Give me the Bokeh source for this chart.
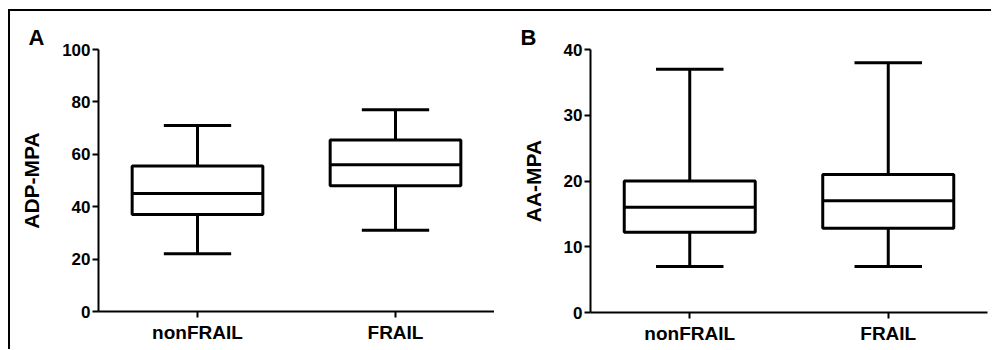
from bokeh.plotting import figure
from bokeh.layouts import row
from bokeh.models import FactorRange, Range1d, FixedTicker, ColumnDataSource
from bokeh.transform import dodge
from bokeh.embed import file_html
from bokeh.resources import INLINE

categories = ["nonFRAIL", "FRAIL"]

# Panel A: ADP-MPA
adp_min = [22, 31]
adp_q1 = [37, 48]
adp_median = [45, 56]
adp_q3 = [55.5, 65.5]
adp_max = [71, 77]

# Panel B: AA-MPA
aa_min = [7, 7]
aa_q1 = [12.2, 12.8]
aa_median = [16, 17]
aa_q3 = [20, 21]
aa_max = [37, 38]

adp_ticks = [0, 20, 40, 60, 80, 100]
aa_ticks = [0, 10, 20, 30, 40]

FONT = "Liberation Sans"


def make_panel(letter, ylabel, ymax, ticks, mins, q1s, meds, q3s, maxs,
               ml, mt, fw, fh, mb, mr, letter_offset):
    src = ColumnDataSource(dict(cat=categories, lo=mins, q1=q1s, med=meds, q3=q3s, hi=maxs))
    p = figure(x_range=FactorRange(*categories, range_padding=0),
               y_range=Range1d(0, ymax),
               frame_width=fw, frame_height=fh,
               min_border_left=ml, min_border_top=mt, min_border_right=mr,
               min_border_bottom=mb, title=letter,
               output_backend="svg", toolbar_location=None, tools="")
    lw = 3
    # stems
    p.segment(x0="cat", x1="cat", y0="q3", y1="hi", source=src, line_color="black", line_width=lw)
    p.segment(x0="cat", x1="cat", y0="lo", y1="q1", source=src, line_color="black", line_width=lw)
    # caps
    p.segment(x0=dodge("cat", -0.17, range=p.x_range), x1=dodge("cat", 0.17, range=p.x_range),
              y0="hi", y1="hi", source=src, line_color="black", line_width=lw)
    p.segment(x0=dodge("cat", -0.17, range=p.x_range), x1=dodge("cat", 0.17, range=p.x_range),
              y0="lo", y1="lo", source=src, line_color="black", line_width=lw)
    # boxes
    p.vbar(x="cat", bottom="q1", top="q3", width=0.66, source=src,
           fill_color="white", line_color="black", line_width=lw)
    # medians
    p.segment(x0=dodge("cat", -0.33, range=p.x_range), x1=dodge("cat", 0.33, range=p.x_range),
              y0="med", y1="med", source=src, line_color="black", line_width=lw)

    p.xgrid.visible = False
    p.ygrid.visible = False
    p.outline_line_color = None
    p.yaxis.ticker = FixedTicker(ticks=ticks)
    p.yaxis.minor_tick_line_color = None
    for ax in (p.xaxis[0], p.yaxis[0]):
        ax.axis_line_width = 2
        ax.axis_line_color = "black"
        ax.major_tick_line_width = 2
        ax.major_tick_line_color = "black"
        ax.major_tick_out = 6
        ax.major_tick_in = 0
        ax.major_label_text_font = FONT
        ax.major_label_text_font_style = "bold"
        ax.major_label_text_color = "black"
    p.yaxis.major_label_text_font_size = "17px"
    p.yaxis.major_label_standoff = 2
    p.xaxis.major_label_text_font_size = "19px"
    p.xaxis.major_label_standoff = 4
    p.yaxis.axis_label = ylabel
    p.yaxis.axis_label_text_font = FONT
    p.yaxis.axis_label_text_font_style = "bold"
    p.yaxis.axis_label_text_font_size = "21px"
    p.yaxis.axis_label_text_color = "black"
    p.yaxis.axis_label_standoff = 16

    # panel letter as the figure title, shifted left of the frame
    p.title.align = "left"
    p.title.offset = letter_offset
    p.title.standoff = 0
    p.title.text_font = FONT
    p.title.text_font_style = "bold"
    p.title.text_font_size = "22px"
    p.title.text_color = "black"
    return p


pA = make_panel("A", "ADP-MPA", 100, adp_ticks, adp_min, adp_q1, adp_median, adp_q3, adp_max,
                ml=88, mt=37, fw=396, fh=262, mb=39, mr=0, letter_offset=-70)
pB = make_panel("B", "AA-MPA", 40, aa_ticks, aa_min, aa_q1, aa_median, aa_q3, aa_max,
                ml=96, mt=38, fw=397, fh=263, mb=37, mr=4, letter_offset=-70)

layout = row(pA, pB, styles={"border-top": "2px solid black", "border-left": "2px solid black",
                             "margin-left": "8px", "margin-top": "9px"})

open("out.html", "w").write(file_html(layout, INLINE))
